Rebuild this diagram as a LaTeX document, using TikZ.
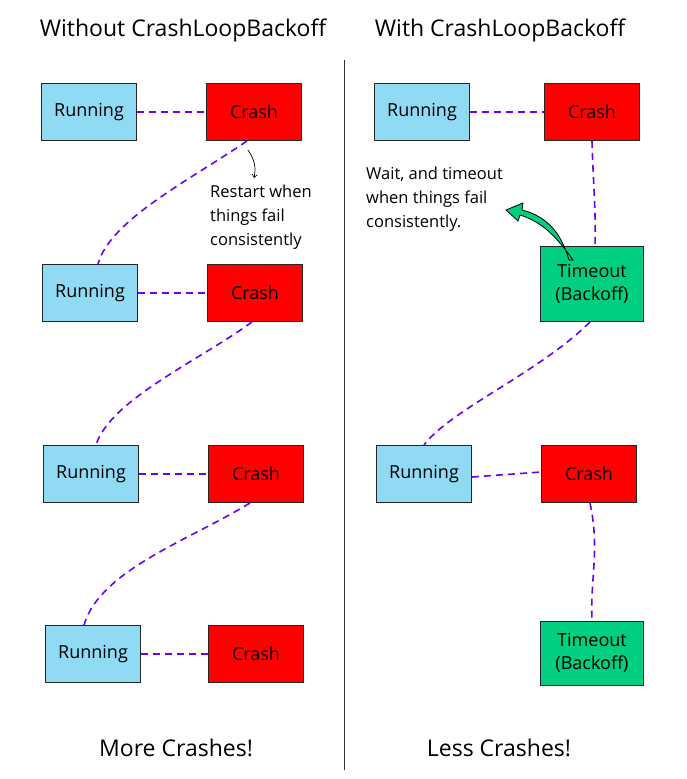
\documentclass[tikz,border=0pt]{standalone}
\usepackage{fontspec}
\setmainfont{Open Sans}
\usetikzlibrary{arrows.meta}
\definecolor{runc}{RGB}{145,218,243}
\definecolor{crashc}{RGB}{255,0,0}
\definecolor{toc}{RGB}{0,206,128}
\definecolor{linkc}{RGB}{106,0,244}
\begin{document}
\begin{tikzpicture}[x=1pt,y=-1pt,
  box/.style={draw=black!85,line width=0.9pt,minimum width=95pt,minimum height=57pt,inner sep=0pt,font=\fontsize{18}{23}\selectfont},
  runbox/.style={box,fill=runc},
  crashbox/.style={box,fill=crashc},
  tobox/.style={box,fill=toc,minimum width=103pt,align=center},
  link/.style={draw=linkc,line width=1.6pt,dash pattern=on 7pt off 5pt},
  note/.style={font=\fontsize{16.5}{24}\selectfont,align=left,anchor=north west,inner sep=0pt},
  title/.style={font=\fontsize{23}{26}\selectfont}]
\useasboundingbox (0,0) rectangle (686,779);
% titles
\node[title] (t1) at (183,30) {Without CrashLoopBackoff};
\node[title] (t2) at (500,30) {With CrashLoopBackoff};
\node[title] (b1) at (176,748) {More Crashes!};
\node[title] (b2) at (499,748) {Less Crashes!};
\draw[black!80,line width=0.8pt] (344,60) -- (344,770);
% left column
\node[runbox] (r1) at (89,112) {Running};
\node[crashbox] (c1) at (254,112) {Crash};
\node[runbox] (r2) at (90,293) {Running};
\node[crashbox] (c2) at (255,293) {Crash};
\node[runbox] (r3) at (91,474) {Running};
\node[crashbox] (c3) at (256,474) {Crash};
\node[runbox] (r4) at (93,654) {Running};
\node[crashbox] (c4) at (256,654) {Crash};
% right column
\node[runbox] (rr1) at (422,112) {Running};
\node[crashbox] (rc1) at (592,112) {Crash};
\node[tobox,minimum height=75pt] (to1) at (592,284) {Timeout\\(Backoff)};
\node[runbox] (rr2) at (424,474) {Running};
\node[crashbox] (rc2) at (589,474) {Crash};
\node[tobox,minimum height=64pt] (to2) at (592,653) {Timeout\\(Backoff)};
% links left
\draw[link] (r1.east) -- (c1.west);
\draw[link] (r2.east) -- (c2.west);
\draw[link] (r3.east) -- (c3.west);
\draw[link] (r4.east) -- (c4.west);
\draw[link] ([xshift=-7pt]c1.south) .. controls (190,180) and (110,220) .. ([xshift=8pt]r2.north);
\draw[link] ([xshift=-3pt]c2.south) .. controls (200,360) and (110,400) .. ([xshift=5pt]r3.north);
\draw[link] ([xshift=-6pt]c3.south) .. controls (190,540) and (100,570) .. ([xshift=-9pt]r4.north);
% links right
\draw[link] (rr1.east) -- (rc1.west);
\draw[link] ([yshift=-3pt]rr2.east) -- ([yshift=2pt]rc2.west);
\draw[link] (rc1.south) .. controls (593,180) and (596,210) .. ([xshift=3pt]to1.north);
\draw[link] ([xshift=-2pt]to1.south) .. controls (540,372) and (450,410) .. (rr2.north);
\draw[link] ([xshift=1pt]rc2.south) .. controls (600,550) and (590,580) .. (to2.north);
% annotations
\node[note] (n1) at (210,185) {Restart when\\things fail\\consistently};
\coordinate (a1s) at (248,150);
\draw[black,line width=0.7pt,-{Straight Barb[length=3pt,width=5pt]}] (a1s) .. controls (255,160) and (256,168) .. (254,178);
\node[note] (n2) at (366,167) {Wait, and timeout\\when things fail\\consistently.};
\draw[black,line width=0.8pt,fill=toc] (569,260) .. controls (561,232) and (546,216) .. (522,210)
  -- (523,203) -- (506,210) -- (518,221) -- (520,215)
  .. controls (542,222) and (556,236) .. (573,260) -- cycle;
\end{tikzpicture}
\end{document}
